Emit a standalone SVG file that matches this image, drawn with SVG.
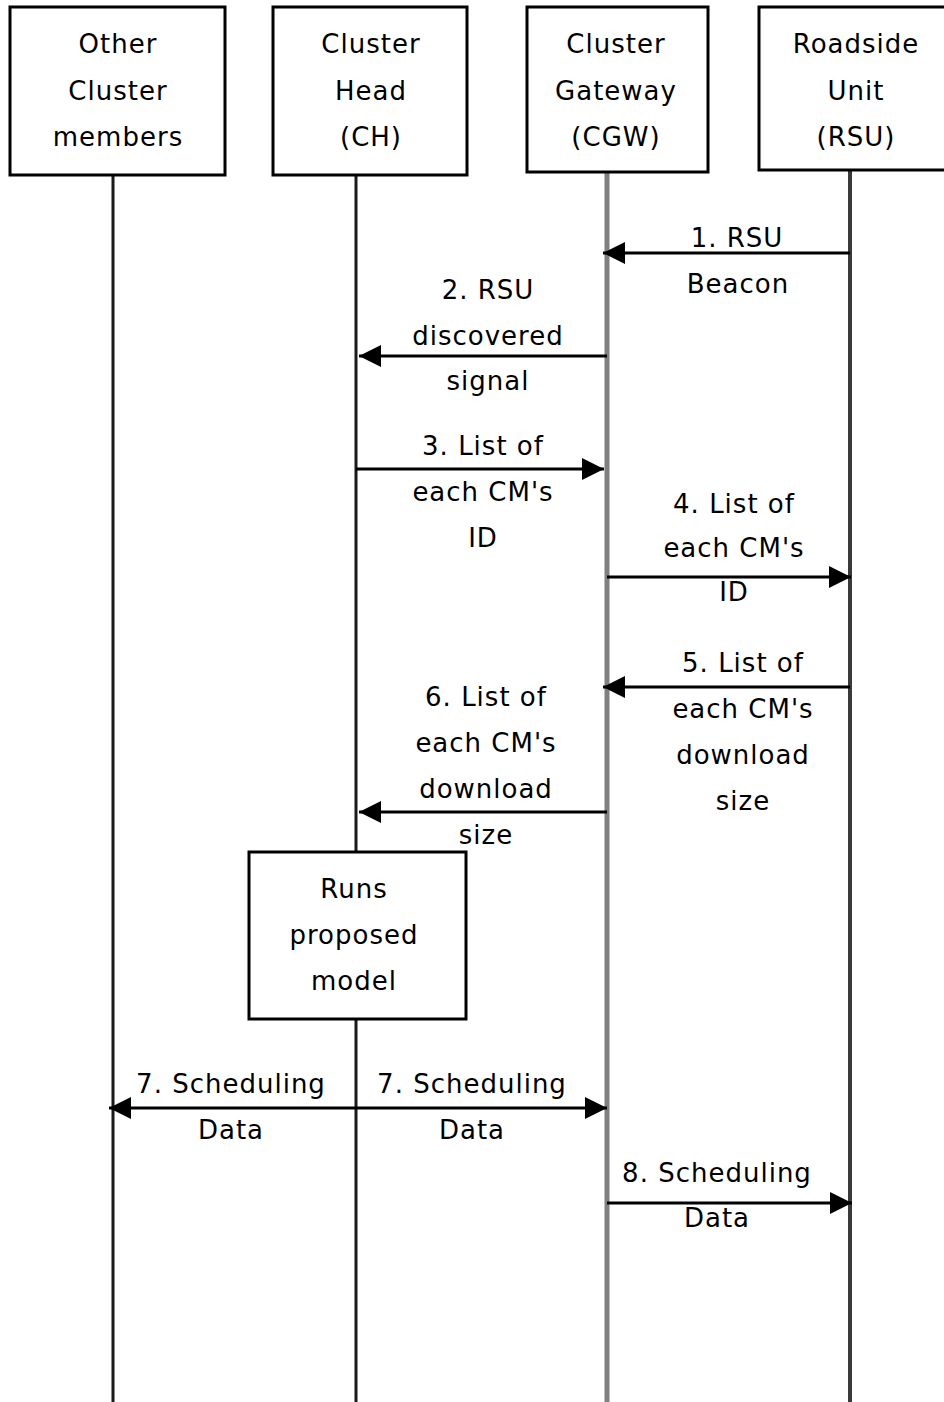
<svg xmlns="http://www.w3.org/2000/svg" width="944" height="1402" viewBox="0 0 944 1402">
<style>
text{font-family:"DejaVu Sans","Liberation Sans",sans-serif;font-size:26px;letter-spacing:1px;fill:#000;text-anchor:middle}
.box{fill:#fff;stroke:#000;stroke-width:3}
.life{stroke:#1a1a1a;stroke-width:3;fill:none}
.msg{stroke:#000;stroke-width:3;fill:none;marker-end:url(#ah)}
</style>
<defs>
<marker id="ah" markerUnits="userSpaceOnUse" viewBox="0 0 22 22" markerWidth="22" markerHeight="22" refX="22" refY="11" orient="auto">
<path d="M0,0 L22,11 L0,22 z" fill="#000"/>
</marker>
</defs>
<rect width="944" height="1402" fill="#fff"/>
<g id="lifelines">
<line class="life" x1="113" y1="175" x2="113" y2="1402"/>
<line class="life" x1="356" y1="175" x2="356" y2="1402"/>
<line x1="607" y1="172" x2="607" y2="1402" stroke="#808080" stroke-width="5"/>
<line x1="850" y1="170" x2="850" y2="1402" stroke="#3a3a3a" stroke-width="4"/>
</g>
<g id="node-other">
<rect class="box" x="10" y="7" width="215" height="168"/>
<text x="118" y="53">Other</text>
<text x="118" y="100">Cluster</text>
<text x="118" y="146">members</text>
</g>
<g id="node-ch">
<rect class="box" x="273" y="7" width="194" height="168"/>
<text x="371" y="53">Cluster</text>
<text x="371" y="100">Head</text>
<text x="371" y="146">(CH)</text>
</g>
<g id="node-cgw">
<rect class="box" x="527" y="7" width="181" height="165"/>
<text x="616" y="53">Cluster</text>
<text x="616" y="100">Gateway</text>
<text x="616" y="146">(CGW)</text>
</g>
<g id="node-rsu">
<rect class="box" x="759" y="7" width="200" height="163"/>
<text x="856" y="53">Roadside</text>
<text x="856" y="100">Unit</text>
<text x="856" y="146">(RSU)</text>
</g>
<g id="node-model">
<rect class="box" x="249" y="852" width="217" height="167"/>
<text x="354" y="898">Runs</text>
<text x="354" y="944">proposed</text>
<text x="354" y="990">model</text>
</g>
<g id="connectors">
<line class="msg" x1="850" y1="253" x2="603" y2="253"/>
<line class="msg" x1="607" y1="356" x2="359" y2="356"/>
<line class="msg" x1="356" y1="469" x2="604" y2="469"/>
<line class="msg" x1="607" y1="577" x2="851" y2="577"/>
<line class="msg" x1="850" y1="687" x2="603" y2="687"/>
<line class="msg" x1="607" y1="812" x2="359" y2="812"/>
<line class="msg" x1="356" y1="1108" x2="109" y2="1108"/>
<line class="msg" x1="356" y1="1108" x2="607" y2="1108"/>
<line class="msg" x1="607" y1="1203" x2="852" y2="1203"/>
</g>
<g id="labels">
<text x="737" y="247">1. RSU</text>
<text x="738" y="293">Beacon</text>
<text x="488" y="299">2. RSU</text>
<text x="488" y="345">discovered</text>
<text x="488" y="390">signal</text>
<text x="483" y="455">3. List of</text>
<text x="483" y="501">each CM's</text>
<text x="483" y="547">ID</text>
<text x="734" y="513">4. List of</text>
<text x="734" y="557">each CM's</text>
<text x="734" y="601">ID</text>
<text x="743" y="672">5. List of</text>
<text x="743" y="718">each CM's</text>
<text x="743" y="764">download</text>
<text x="743" y="810">size</text>
<text x="486" y="706">6. List of</text>
<text x="486" y="752">each CM's</text>
<text x="486" y="798">download</text>
<text x="486" y="844">size</text>
<text x="231" y="1093">7. Scheduling</text>
<text x="231" y="1139">Data</text>
<text x="472" y="1093">7. Scheduling</text>
<text x="472" y="1139">Data</text>
<text x="717" y="1182">8. Scheduling</text>
<text x="717" y="1227">Data</text>
</g>
</svg>
